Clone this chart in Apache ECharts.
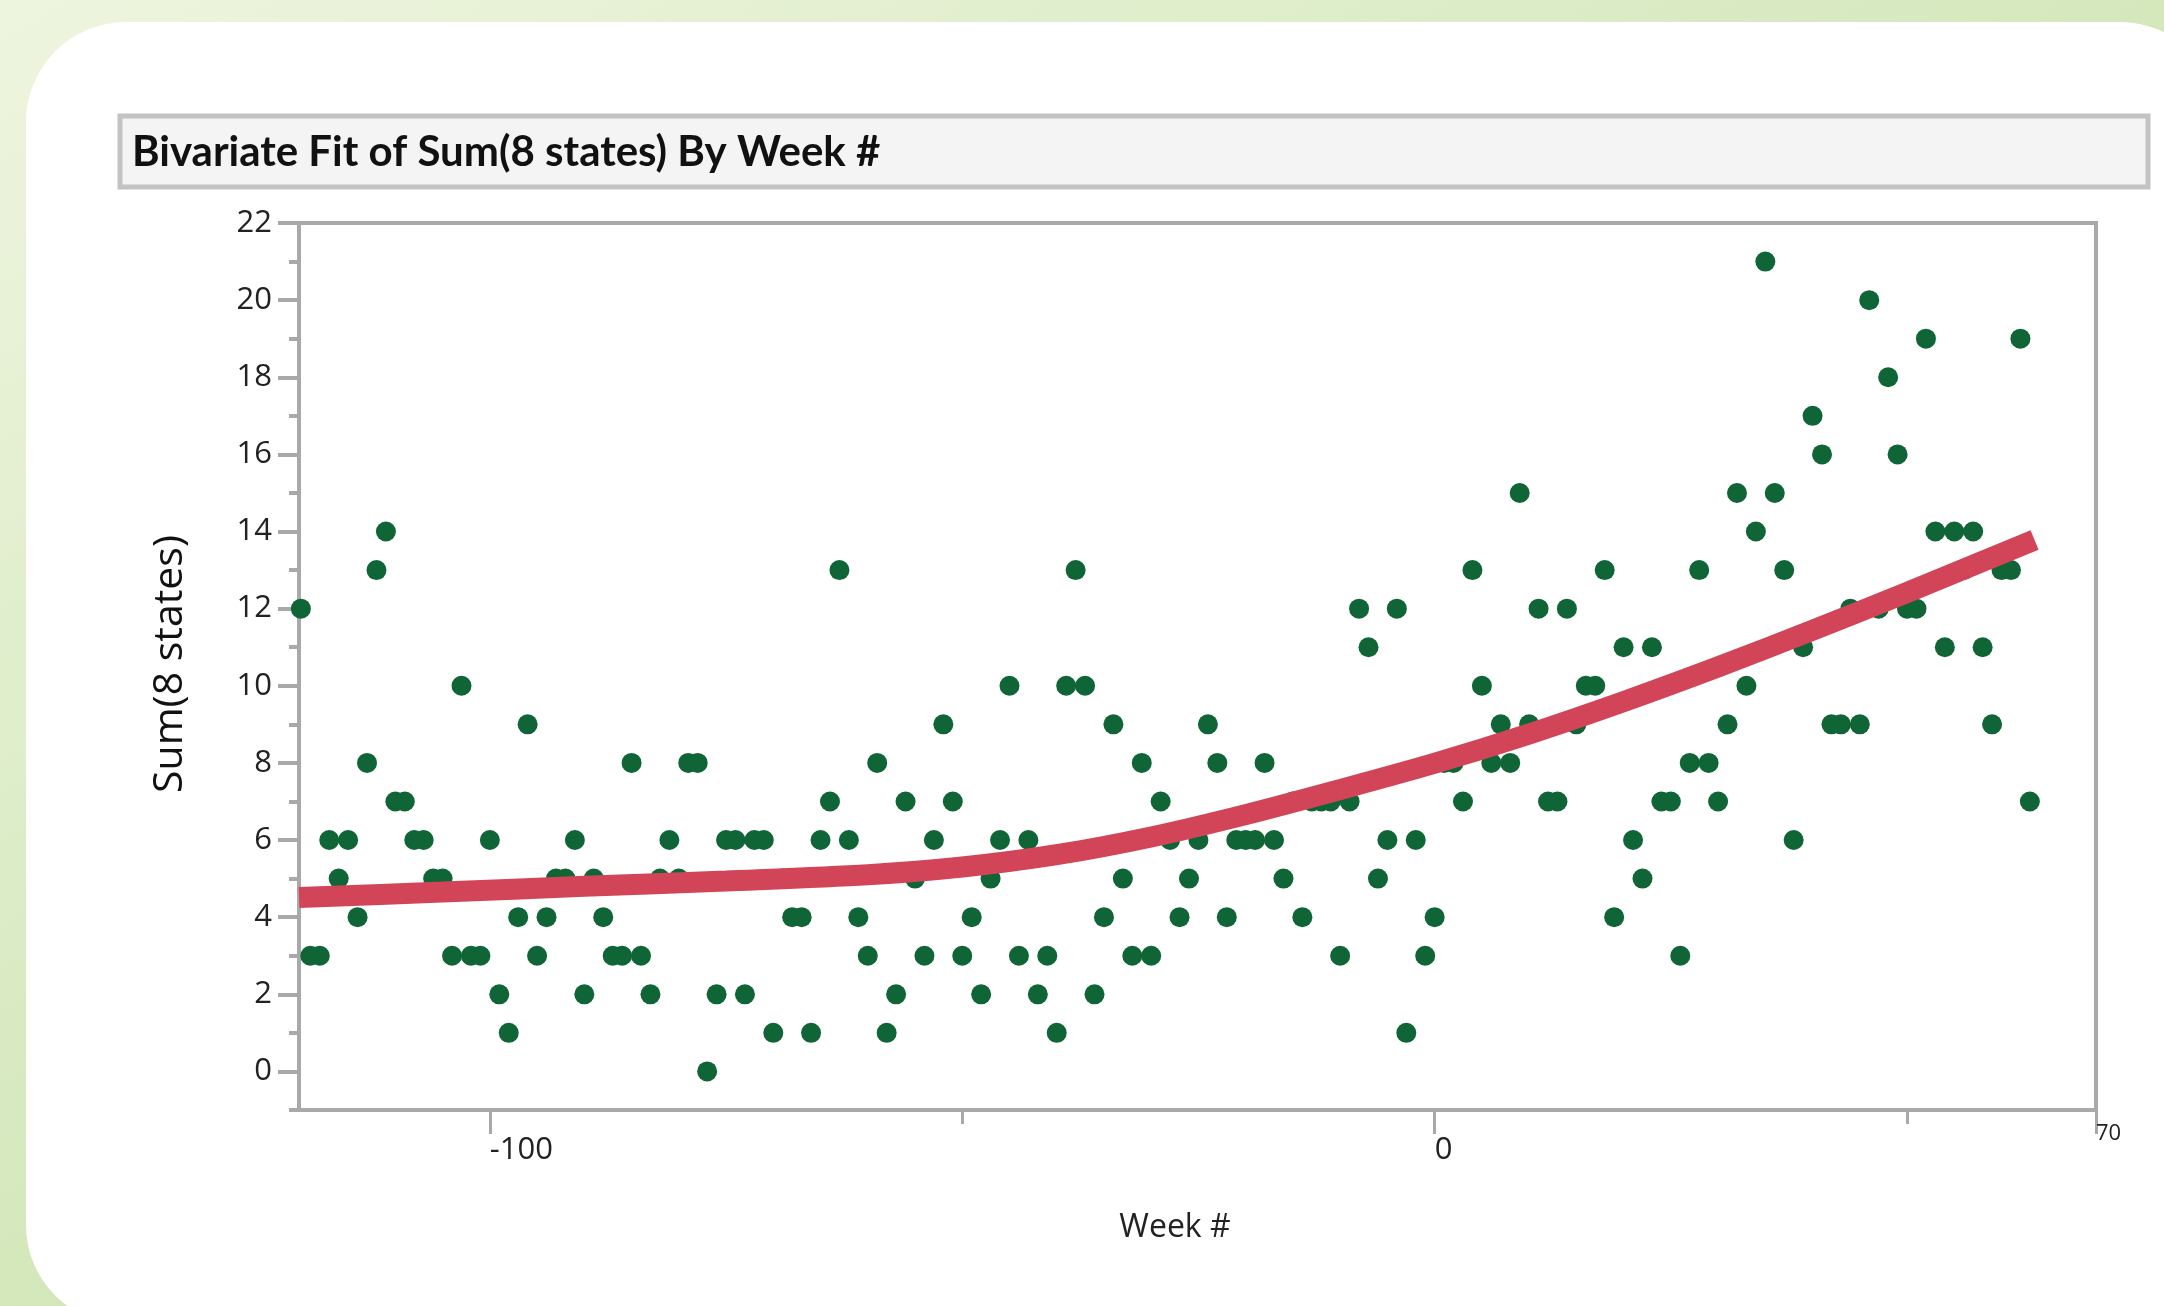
<!DOCTYPE html>
<html>
<head>
<meta charset="utf-8">
<title>Bivariate Fit of Sum(8 states) By Week #</title>
<script src="https://cdn.jsdelivr.net/npm/echarts@6/dist/echarts.min.js"></script>
<style>
  html, body { margin: 0; padding: 0; }
  #chart { width: 2164px; height: 1306px; }
</style>
</head>
<body>
<div id="chart"></div>
<script>
// weekly totals, week -120 .. 63
var FIRST_WEEK = -120;
var sums = [
  12, 3, 3, 6, 5, 6, 4, 8, 13, 14,   // -120..-111
  7, 7, 6, 6, 5, 5, 3, 10, 3, 3,     // -110..-101
  6, 2, 1, 4, 9, 3, 4, 5, 5, 6,      // -100..-91
  2, 5, 4, 3, 3, 8, 3, 2, 5, 6,      // -90..-81
  5, 8, 8, 0, 2, 6, 6, 2, 6, 6,      // -80..-71
  1, 5, 4, 4, 1, 6, 7, 13, 6, 4,     // -70..-61
  3, 8, 1, 2, 7, 5, 3, 6, 9, 7,      // -60..-51
  3, 4, 2, 5, 6, 10, 3, 6, 2, 3,     // -50..-41
  1, 10, 13, 10, 2, 4, 9, 5, 3, 8,   // -40..-31
  3, 7, 6, 4, 5, 6, 9, 8, 4, 6,      // -30..-21
  6, 6, 8, 6, 5, 7, 4, 7, 7, 7,      // -20..-11
  3, 7, 12, 11, 5, 6, 12, 1, 6, 3,   // -10..-1
  4, 8, 8, 7, 13, 10, 8, 9, 8, 15,   // 0..9
  9, 12, 7, 7, 12, 9, 10, 10, 13, 4, // 10..19
  11, 6, 5, 11, 7, 7, 3, 8, 13, 8,   // 20..29
  7, 9, 15, 10, 14, 21, 15, 13, 6, 11, // 30..39
  17, 16, 9, 9, 12, 9, 20, 12, 18, 16, // 40..49
  12, 12, 19, 14, 11, 14, 13, 14, 11, 9, // 50..59
  13, 13, 19, 7                      // 60..63
];
var weeks = sums.map(function (_, i) { return FIRST_WEEK + i; });

// fitted curve
var fitWeeks  = [-120.2, -105, -90, -75, -60, -50, -40, -30, -20, -10, 0, 10, 20, 30, 40, 50, 63.5];
var fitValues = [4.51, 4.65, 4.80, 4.94, 5.10, 5.30, 5.62, 6.08, 6.66, 7.31, 7.99, 8.75, 9.59, 10.49, 11.44, 12.42, 13.78];

// axes
var X_MIN = -120.2, X_MAX = 70;
var Y_MIN = -1, Y_MAX = 22;
var xLabelTicks = [-100, 0, 70];
var xMinorTicks = [-50, 50];
var yLabelTicks = [0, 2, 4, 6, 8, 10, 12, 14, 16, 18, 20, 22];
var yMinorTicks = [-1, 1, 3, 5, 7, 9, 11, 13, 15, 17, 19, 21];

var FONT = '"Open Sans", "Noto Sans", sans-serif';
var AXIS_GREY = '#a9a9a9';

var chart = echarts.init(document.getElementById('chart'));

var scatterData = weeks.map(function (w, i) { return [w, sums[i]]; });
var fitData = fitWeeks.map(function (w, i) { return [w, fitValues[i]]; });

var option = {
  animation: false,
  backgroundColor: 'transparent',
  graphic: [
    {
      type: 'rect', z: -20, silent: true,
      shape: { x: 0, y: 0, width: 2164, height: 1306 },
      style: {
        fill: new echarts.graphic.LinearGradient(0, 0, 0.35, 1, [
          { offset: 0, color: '#eef5df' },
          { offset: 1, color: '#cbe3af' }
        ])
      }
    },
    {
      // white card
      type: 'rect', z: -19, silent: true,
      shape: { x: 26, y: 22, width: 2194, height: 1303, r: 100 },
      style: { fill: '#ffffff' }
    },
    {
      // title bar
      type: 'rect', z: -18, silent: true,
      shape: { x: 120, y: 116, width: 2028, height: 71 },
      style: { fill: '#f4f4f4', stroke: '#c3c3c3', lineWidth: 5 }
    },
    {
      type: 'text', z: 100, silent: true,
      x: 132, y: 152,
      style: {
        text: 'Bivariate Fit of Sum(8 states) By Week #',
        fontFamily: 'Lato, "Open Sans", sans-serif',
        fontWeight: 'bold',
        fontSize: 42,
        fill: '#111',
        verticalAlign: 'middle'
      }
    },
    {
      type: 'text', z: 100, silent: true,
      x: 1175, y: 1228,
      style: {
        text: 'Week #', fontFamily: FONT, fontSize: 32, fill: '#222',
        align: 'center', verticalAlign: 'middle'
      }
    },
    {
      type: 'text', z: 100, silent: true,
      x: 170, y: 664, rotation: Math.PI / 2,
      style: {
        text: 'Sum(8 states)', fontFamily: FONT, fontSize: 41, fill: '#111',
        align: 'center', verticalAlign: 'middle'
      }
    }
  ],
  grid: {
    left: 299, right: 68, top: 223, bottom: 196,
    show: true,
    backgroundColor: '#ffffff',
    borderColor: AXIS_GREY,
    borderWidth: 4
  },
  xAxis: [
    {
      type: 'value', min: X_MIN, max: X_MAX, position: 'bottom',
      axisLine: { show: false, onZero: false },
      splitLine: { show: false },
      axisTick: {
        show: true, customValues: xLabelTicks, length: 24,
        lineStyle: { color: AXIS_GREY, width: 3 }
      },
      axisLabel: {
        customValues: xLabelTicks,
        align: 'left', verticalAlign: 'top', margin: 10,
        formatter: function (v) {
          return v === 70 ? '{s|70}' : '{n|' + v + '}';
        },
        rich: {
          n: { fontFamily: FONT, fontSize: 31, lineHeight: 60, color: '#222' },
          s: { fontFamily: FONT, fontSize: 22, lineHeight: 28, color: '#222' }
        }
      }
    },
    {
      type: 'value', min: X_MIN, max: X_MAX, position: 'bottom',
      axisLine: { show: false, onZero: false },
      splitLine: { show: false },
      axisTick: {
        show: true, customValues: xMinorTicks, length: 14,
        lineStyle: { color: AXIS_GREY, width: 3 }
      },
      axisLabel: { show: false }
    }
  ],
  yAxis: [
    {
      type: 'value', min: Y_MIN, max: Y_MAX, position: 'left',
      axisLine: { show: false, onZero: false },
      splitLine: { show: false },
      axisTick: {
        show: true, customValues: yLabelTicks, length: 21,
        lineStyle: { color: AXIS_GREY, width: 4 }
      },
      axisLabel: {
        customValues: yLabelTicks,
        margin: 27, fontFamily: FONT, fontSize: 31, color: '#222'
      }
    },
    {
      type: 'value', min: Y_MIN, max: Y_MAX, position: 'left',
      axisLine: { show: false, onZero: false },
      splitLine: { show: false },
      axisTick: {
        show: true, customValues: yMinorTicks, length: 10,
        lineStyle: { color: AXIS_GREY, width: 4 }
      },
      axisLabel: { show: false }
    }
  ],
  series: [
    {
      name: 'Sum(8 states)',
      type: 'scatter',
      xAxisIndex: 0, yAxisIndex: 0,
      data: scatterData,
      symbolSize: 20,
      itemStyle: { color: '#0f6535', opacity: 1 },
      z: 2
    },
    {
      name: 'Fit',
      type: 'line',
      xAxisIndex: 0, yAxisIndex: 0,
      data: fitData,
      smooth: 0.3,
      showSymbol: false,
      lineStyle: { color: '#d24558', width: 21, cap: 'butt' },
      z: 3
    }
  ]
};

chart.setOption(option);
window.onresize = chart.resize;
</script>
</body>
</html>
